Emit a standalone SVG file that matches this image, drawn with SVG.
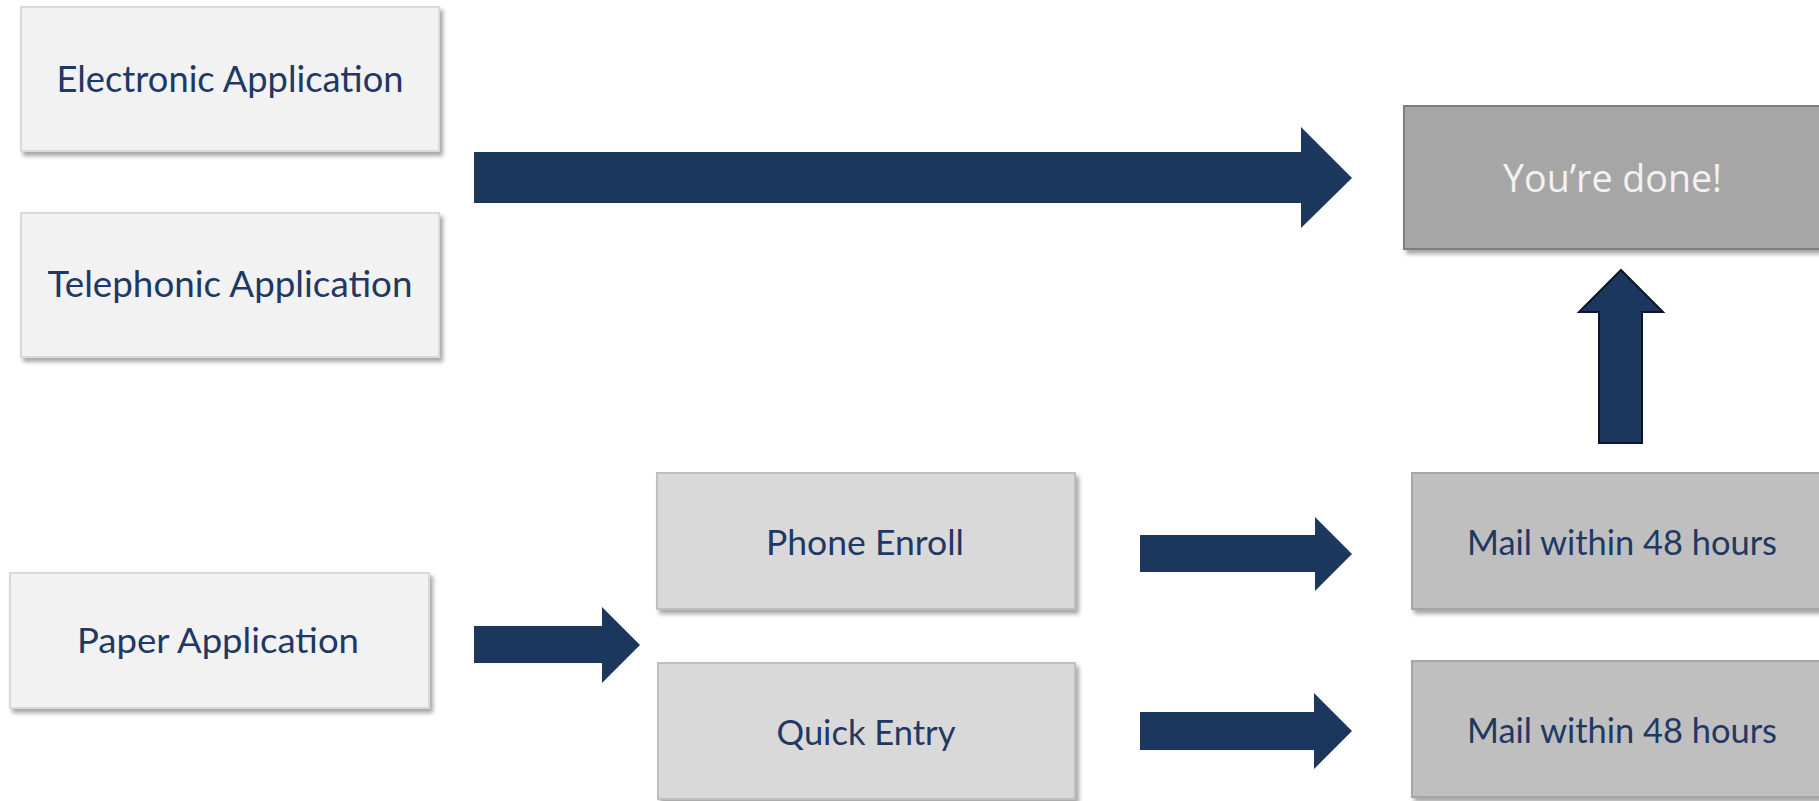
<svg xmlns="http://www.w3.org/2000/svg" width="1819" height="801" viewBox="0 0 1819 801">
  <defs>
    <filter id="shadow" x="-5%" y="-10%" width="115%" height="130%">
      <feDropShadow dx="3" dy="4" stdDeviation="2" flood-color="#000" flood-opacity="0.35"/>
    </filter>
  </defs>
  <style>
    .box { filter: url(#shadow); stroke-width: 2; }
    .light { fill: #f2f2f2; stroke: #d9d9d9; }
    .mid { fill: #d9d9d9; stroke: #bfbfbf; }
    .dark { fill: #bfbfbf; stroke: #a6a6a6; }
    .done { fill: #a6a6a6; stroke: #7f7f7f; }
    .label { font-family: Lato, "Liberation Sans", sans-serif; font-size: 35px; fill: #1f3864; text-anchor: middle; }
    .big { font-size: 37px; }
    .white { font-family: "Open Sans", "Liberation Sans", sans-serif; font-weight: 400; font-size: 38px; fill: #f2f2f2; text-anchor: middle; }
    .arrow { fill: #1c375e; }
  </style>

  <rect width="1819" height="801" fill="#ffffff"/>

  <g id="electronic">
    <rect class="box light" x="21" y="7" width="418" height="144"/>
    <text class="label big" x="230" y="92" textLength="347" lengthAdjust="spacingAndGlyphs">Electronic Application</text>
  </g>

  <g id="telephonic">
    <rect class="box light" x="21" y="213" width="418" height="144"/>
    <text class="label big" x="230" y="297" textLength="365" lengthAdjust="spacingAndGlyphs">Telephonic Application</text>
  </g>

  <g id="paper">
    <rect class="box light" x="10" y="573" width="419" height="135"/>
    <text class="label" x="218" y="653" textLength="282" lengthAdjust="spacingAndGlyphs">Paper Application</text>
  </g>

  <g id="phone-enroll">
    <rect class="box mid" x="657" y="473" width="418" height="136"/>
    <text class="label" x="865" y="555" textLength="198" lengthAdjust="spacingAndGlyphs">Phone Enroll</text>
  </g>

  <g id="quick-entry">
    <rect class="box mid" x="658" y="663" width="417" height="136"/>
    <text class="label" x="866" y="745" textLength="179" lengthAdjust="spacingAndGlyphs">Quick Entry</text>
  </g>

  <g id="done">
    <rect class="box done" x="1404" y="106" width="430" height="143"/>
    <text class="white" x="1612.5" y="192" textLength="219" lengthAdjust="spacingAndGlyphs">You’re done!</text>
  </g>

  <g id="mail-1">
    <rect class="box dark" x="1412" y="473" width="420" height="136"/>
    <text class="label" x="1622" y="555" textLength="310" lengthAdjust="spacingAndGlyphs">Mail within 48 hours</text>
  </g>

  <g id="mail-2">
    <rect class="box dark" x="1412" y="661" width="420" height="136"/>
    <text class="label" x="1622" y="743" textLength="310" lengthAdjust="spacingAndGlyphs">Mail within 48 hours</text>
  </g>

  <g id="connectors">
    <!-- electronic / telephonic straight to done -->
    <polygon class="arrow" points="474,152 1301,152 1301,127 1352,178 1301,228 1301,203 474,203"/>
    <!-- paper to the two entry paths -->
    <polygon class="arrow" points="474,626 602,626 602,607 640,645 602,683 602,663 474,663"/>
    <!-- phone enroll to mail -->
    <polygon class="arrow" points="1140,535 1315,535 1315,517 1352,554 1315,591 1315,572 1140,572"/>
    <!-- quick entry to mail -->
    <polygon class="arrow" points="1140,712 1314,712 1314,693 1352,731 1314,769 1314,750 1140,750"/>
    <!-- mail up to done -->
    <polygon class="arrow" stroke="#0b1729" stroke-width="2" points="1621,270 1663,312 1642,312 1642,443 1599,443 1599,312 1579,312"/>
  </g>
</svg>
